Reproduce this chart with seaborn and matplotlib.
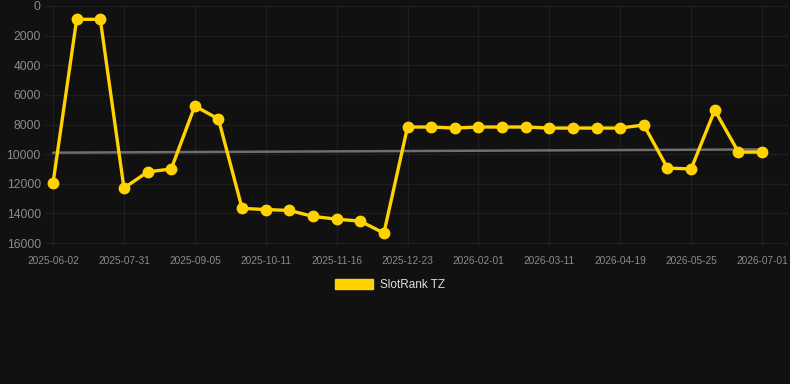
import matplotlib
matplotlib.use("Agg")
import matplotlib.pyplot as plt
import seaborn as sns
import pandas as pd
import numpy as np
from matplotlib.patches import Patch

# ---- data ----
tick_labels = ["2025-06-02", "2025-07-31", "2025-09-05", "2025-10-11", "2025-11-16",
               "2025-12-23", "2026-02-01", "2026-03-11", "2026-04-19", "2026-05-25",
               "2026-07-01"]
rank = [11950, 900, 900, 12290, 11200, 11000, 6750, 7630, 13660, 13740,
        13800, 14200, 14390, 14520, 15330, 8170, 8170, 8240, 8170, 8170,
        8170, 8240, 8240, 8240, 8240, 8030, 10940, 11000, 7030, 9860, 9860]
trend_x = [0, 30]
trend_y = [9900, 9680]
series_name = "SlotRank TZ"

BG = "#111111"
GRID = "#1f1f1f"
TXT = "#8a8a8a"
GOLD = "#FFD200"

sns.set_theme(style="dark")
plt.rcParams["font.family"] = ["Liberation Sans", "DejaVu Sans"]

fig = plt.figure(figsize=(7.9, 3.84), dpi=100, facecolor=BG)
ax = fig.add_axes([45/790, 1-246/384, (788-45)/790, (246-6)/384])
ax.set_facecolor(BG)

df = pd.DataFrame({"idx": np.arange(len(rank)), "rank": rank})
tdf = pd.DataFrame({"idx": trend_x, "rank": trend_y})

sns.lineplot(data=tdf, x="idx", y="rank", ax=ax, color="#6e6e6e", linewidth=1.8, zorder=2)
sns.lineplot(data=df, x="idx", y="rank", ax=ax, color=GOLD, linewidth=2.4,
             marker="o", markersize=8.5, markeredgewidth=0, zorder=3)

ax.set_xlim(-0.34, 31.1)
ax.set_ylim(16200, 0)
ax.set_xticks(np.arange(0, len(rank), 3))
ax.set_xticklabels(tick_labels)
ax.set_yticks(np.arange(0, 16001, 2000))
ax.set_yticklabels([str(v) for v in range(0, 16001, 2000)])
ax.set_xlabel("")
ax.set_ylabel("")

ax.grid(True, color=GRID, linewidth=0.9)
for s in ax.spines.values():
    s.set_visible(False)
ax.tick_params(axis="x", colors=TXT, labelsize=7.3, length=4, color=GRID, pad=3)
ax.tick_params(axis="y", colors=TXT, labelsize=8.8, length=0, pad=3)
for t in ax.get_xticklabels() + ax.get_yticklabels():
    t.set_color(TXT)

leg = fig.legend(handles=[Patch(facecolor=GOLD, edgecolor=GOLD, label=series_name)],
                 loc="center", bbox_to_anchor=(390/790, 1-285/384), frameon=False,
                 handlelength=3.2, handleheight=0.9, fontsize=8.5, handletextpad=0.6)
for t in leg.get_texts():
    t.set_color("#dddddd")

fig.savefig("out.png", dpi=100, facecolor=BG)
